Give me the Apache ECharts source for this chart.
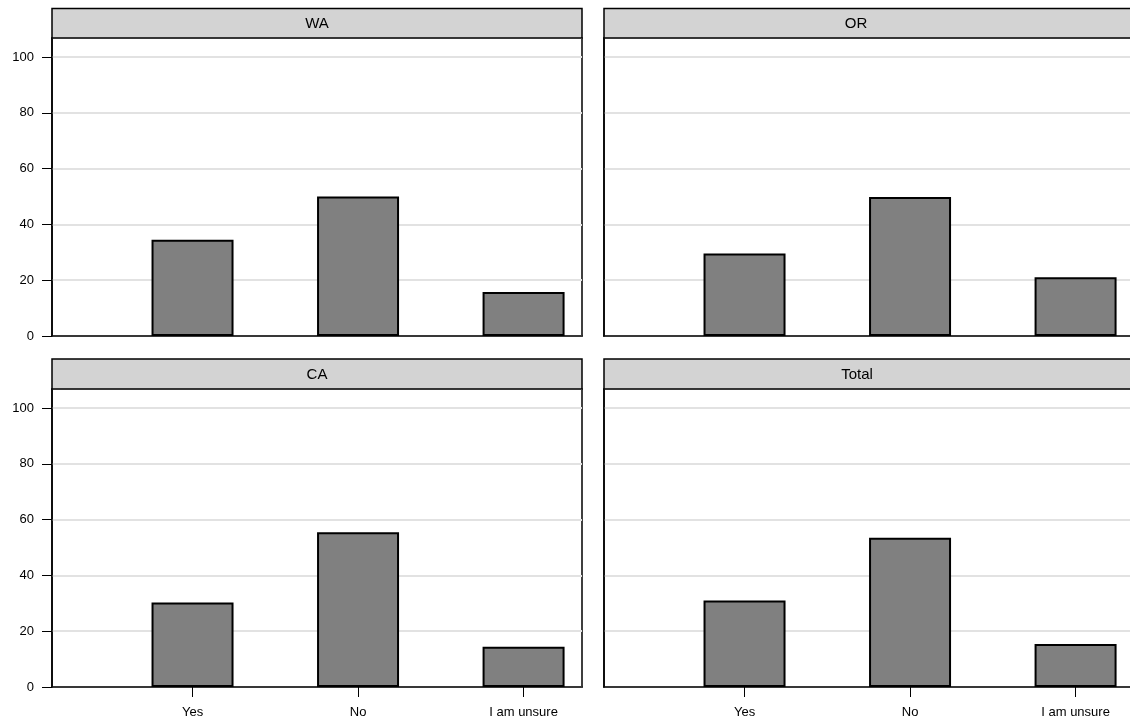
<!DOCTYPE html>
<html>
<head>
<meta charset="utf-8">
<script src="https://cdn.jsdelivr.net/npm/echarts@6/dist/echarts.min.js"></script>
<style>
html,body{margin:0;padding:0;background:#fff;overflow:hidden;width:1130px;height:727px;}
#chart{width:1140px;height:727px;}
</style>
</head>
<body>
<div id="chart"></div>
<script>
// ---- data ----
const categories = ['Yes', 'No', 'I am unsure'];
const panelNames = ['WA', 'OR', 'CA', 'Total'];
const waValues = [34.5, 50.0, 15.8];
const orValues = [29.6, 49.8, 21.1];
const caValues = [30.3, 55.5, 14.4];
const totalValues = [31.0, 53.5, 15.4];
const yTickLabels = [0, 20, 40, 60, 80, 100];

// ---- layout ----
const panelValues = [waValues, orValues, caValues, totalValues];
const layout = [
  { left: 52, top: 38, width: 530, height: 298, stripTop: 8.5, titleX: 317, showY: true, showX: false },
  { left: 604, top: 38, width: 530, height: 298, stripTop: 8.5, titleX: 856, showY: false, showX: false },
  { left: 52, top: 389, width: 530, height: 298, stripTop: 359, titleX: 317, showY: true, showX: true },
  { left: 604, top: 389, width: 530, height: 298, stripTop: 359, titleX: 857, showY: false, showX: true }
];
const FONT = 'Liberation Sans, Arial, sans-serif';

const grids = [], xAxes = [], yAxes = [], series = [], graphics = [];
layout.forEach((L, i) => {
  grids.push({
    left: L.left, top: L.top, width: L.width, height: L.height,
    show: true, borderColor: '#000', borderWidth: 1.5, backgroundColor: '#fff'
  });
  xAxes.push({
    type: 'value', gridIndex: i, min: 0.151, max: 3.353,
    splitLine: { show: false },
    axisLine: { show: true, onZero: false, lineStyle: { color: '#000', width: 1.5 } },
    axisTick: { show: L.showX, customValues: [1, 2, 3], length: 10, lineStyle: { color: '#000', width: 1 } },
    axisLabel: {
      show: L.showX, customValues: [1, 2, 3], margin: 19,
      color: '#000', fontSize: 13, fontFamily: FONT,
      formatter: v => categories[Math.round(v) - 1] || ''
    }
  });
  yAxes.push({
    type: 'value', gridIndex: i, min: 0, max: 106.8, interval: 20,
    splitLine: { show: true, lineStyle: { color: '#e2e2e2', width: 2 } },
    axisLine: { show: true, lineStyle: { color: '#000', width: 1.5 } },
    axisTick: { show: L.showY, length: 10, lineStyle: { color: '#000', width: 1 } },
    axisLabel: {
      show: L.showY, margin: 18, color: '#000', fontSize: 13, fontFamily: FONT,
      showMaxLabel: false,
      formatter: v => (yTickLabels.indexOf(v) >= 0 ? String(v) : '')
    }
  });
  series.push({
    type: 'bar', xAxisIndex: i, yAxisIndex: i, barWidth: 82,
    data: panelValues[i].map((v, k) => [k + 1, v]),
    itemStyle: { color: '#808080', borderColor: '#000', borderWidth: 2 },
    silent: true, animation: false
  });
  graphics.push({
    type: 'rect',
    shape: { x: L.left, y: L.stripTop, width: L.width, height: L.top - L.stripTop },
    style: { fill: '#d3d3d3', stroke: '#000', lineWidth: 1.5 },
    z: 10
  });
  graphics.push({
    type: 'text',
    x: L.titleX, y: (L.stripTop + L.top) / 2 + 1,
    style: { text: panelNames[i], fill: '#000', font: '15px ' + FONT, textAlign: 'center', textVerticalAlign: 'middle' },
    z: 11
  });
});

const chart = echarts.init(document.getElementById('chart'), null, { renderer: 'canvas' });
chart.setOption({
  animation: false,
  backgroundColor: '#fff',
  grid: grids,
  xAxis: xAxes,
  yAxis: yAxes,
  series: series,
  graphic: graphics
});
</script>
</body>
</html>
